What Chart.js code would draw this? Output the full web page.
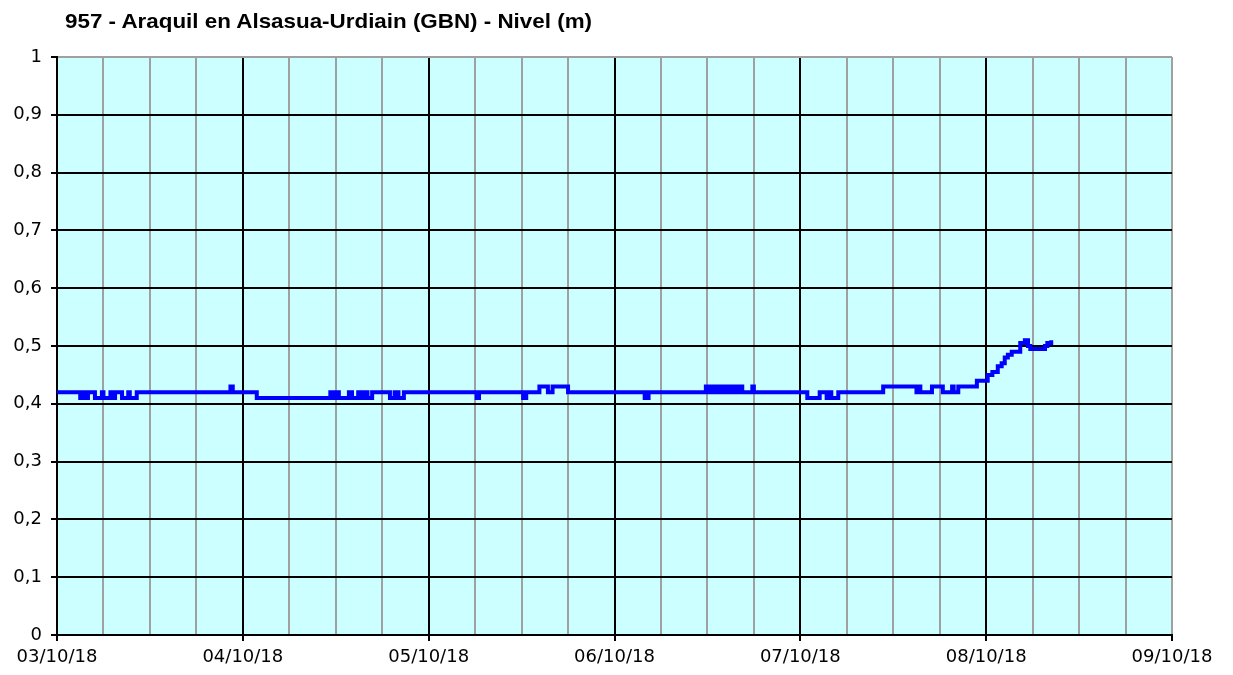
<!DOCTYPE html>
<html>
<head>
<meta charset="utf-8">
<script src="https://cdn.jsdelivr.net/npm/chart.js@4/dist/chart.umd.min.js"></script>
<style>
  body { margin: 0; background: #fff; }
  #wrap { position: relative; width: 1233px; height: 675px; }
  #title {
    position: absolute; left: 65px; top: 9px;
    font: bold 21px "Liberation Sans", Arial, sans-serif;
    color: #000; white-space: nowrap;
    transform-origin: left top;
  }
</style>
</head>
<body>
<div id="wrap">
  <canvas id="chart" width="1233" height="675"></canvas>
  <div id="title">957 - Araquil en Alsasua-Urdiain (GBN) - Nivel (m)</div>
</div>
<script>
// hours since 03/10/18 00:00 where the level changes, and the new level (m)
const hours = [
  0, 3.0, 3.4, 3.6, 4.0, 4.9, 5.8, 6.0, 6.9, 7.1, 7.5, 8.4, 9.2, 9.4, 10.3,
  22.4, 22.7, 25.8,
  35.3, 35.6, 36.1, 36.4, 37.7, 38.1, 38.9, 39.4, 39.9, 40.1, 40.7,
  43.0, 43.6, 44.1, 44.8, 54.2, 54.5, 60.2, 60.6,
  62.3, 63.4, 64.0, 66.0,
  75.9, 76.4,
  83.8, 84.1, 84.4, 84.8, 85.1, 85.6, 85.9, 86.4, 86.7, 87.2, 87.5, 88.0, 88.2, 88.5,
  89.8, 90.0,
  96.9, 98.5, 99.4, 99.8, 100.0, 100.9,
  106.7, 111.0, 111.3, 111.5, 113.0, 114.4, 115.6, 115.8, 116.4,
  118.8, 120.2, 120.8, 121.5, 122.0, 122.4, 122.8, 123.3, 124.4, 125.0, 125.4, 125.7,
  127.6, 127.9, 128.4
];
const levels = [
  0.42, 0.41, 0.42, 0.41, 0.42, 0.41, 0.42, 0.41, 0.42, 0.41, 0.42, 0.41, 0.42, 0.41, 0.42,
  0.43, 0.42, 0.41,
  0.42, 0.41, 0.42, 0.41, 0.42, 0.41, 0.42, 0.41, 0.42, 0.41, 0.42,
  0.41, 0.42, 0.41, 0.42, 0.41, 0.42, 0.41, 0.42,
  0.43, 0.42, 0.43, 0.42,
  0.41, 0.42,
  0.43, 0.42, 0.43, 0.42, 0.43, 0.42, 0.43, 0.42, 0.43, 0.42, 0.43, 0.42, 0.43, 0.42,
  0.43, 0.42,
  0.41, 0.42, 0.41, 0.42, 0.41, 0.42,
  0.43, 0.42, 0.43, 0.42, 0.43, 0.42, 0.43, 0.42, 0.43,
  0.44, 0.45, 0.455, 0.465, 0.47, 0.48, 0.485, 0.49, 0.505, 0.51, 0.50, 0.495,
  0.50, 0.505, 0.51
];
const dayLabels = ["03/10/18", "04/10/18", "05/10/18", "06/10/18", "07/10/18", "08/10/18", "09/10/18"];

// squeeze the title to the narrow width it has in the original
const title = document.getElementById("title");
title.style.transform = `scaleX(${527 / title.getBoundingClientRect().width})`;

const plotBackground = {
  id: "plotBackground",
  beforeDraw(chart) {
    const { ctx, chartArea: a } = chart;
    ctx.save();
    ctx.fillStyle = "#CCFFFF";
    ctx.fillRect(a.left, a.top, a.right - a.left, a.bottom - a.top);
    ctx.restore();
  },
};

const tickFont = { family: "DejaVu Sans", size: 18 };

new Chart(document.getElementById("chart"), {
  type: "line",
  data: {
    datasets: [
      {
        data: hours.map((h, i) => ({ x: h, y: levels[i] })),
        borderColor: "#0000FF",
        borderWidth: 4,
        pointRadius: 0,
        stepped: true,
        fill: false,
      },
    ],
  },
  plugins: [plotBackground],
  options: {
    responsive: false,
    animation: false,
    layout: { padding: { top: 57, right: 61, left: 0, bottom: 0 } },
    plugins: { legend: { display: false }, tooltip: { enabled: false } },
    scales: {
      x: {
        type: "linear",
        min: 0,
        max: 144,
        afterFit: (s) => { s.height = 40; },
        ticks: {
          stepSize: 6,
          autoSkip: false,
          maxRotation: 0,
          padding: 6,
          color: "#000",
          font: tickFont,
          callback: (v) => (v % 24 === 0 ? dayLabels[v / 24] : ""),
        },
        grid: {
          lineWidth: 2,
          tickLength: 6,
          color: (c) => (c.tick && c.tick.value % 24 === 0 && c.tick.value !== 144 ? "#000" : "#A0A0A0"),
          tickColor: (c) => (c.tick && c.tick.value % 24 === 0 ? "#000" : "rgba(0,0,0,0)"),
        },
        border: { color: "#000", width: 2 },
      },
      y: {
        min: 0,
        max: 1,
        afterFit: (s) => { s.width = 57; },
        ticks: {
          stepSize: 0.1,
          padding: 9,
          color: "#000",
          font: tickFont,
          callback: (v) => String(Math.round(v * 10) / 10).replace(".", ","),
        },
        grid: {
          lineWidth: 2,
          tickLength: 6,
          color: (c) => (c.tick && c.tick.value >= 1 ? "#A0A0A0" : "#000"),
          tickColor: "#000",
        },
        border: { color: "#000", width: 2 },
      },
    },
  },
});
</script>
</body>
</html>
